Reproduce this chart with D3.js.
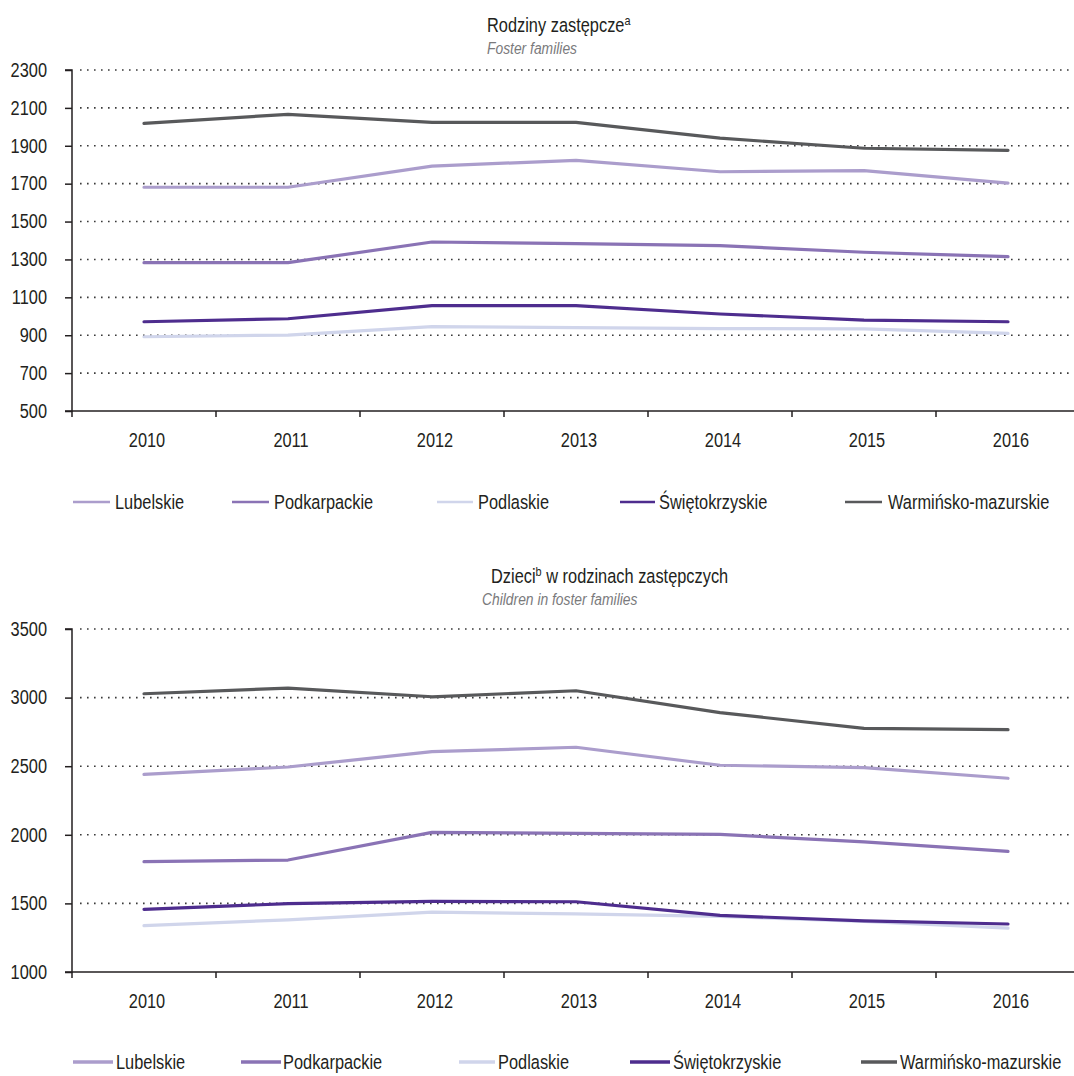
<!DOCTYPE html>
<html>
<head>
<meta charset="utf-8">
<script src="https://cdn.jsdelivr.net/npm/d3@7"></script>
<style>
  html, body { margin: 0; padding: 0; background: #fff; }
  svg { display: block; }
  text { font-family: "Liberation Sans", Arial, sans-serif; fill: #231f20; }
</style>
</head>
<body>
<svg id="chart" width="1074" height="1076"></svg>
<script>
const years = ["2010", "2011", "2012", "2013", "2014", "2015", "2016"];
const seriesNames = ["Lubelskie", "Podkarpackie", "Podlaskie", "Świętokrzyskie", "Warmińsko-mazurskie"];
const seriesColors = ["#ab9dcc", "#8a73b5", "#d0d5eb", "#4e2d8e", "#58595b"];

// Rodziny zastępcze (foster families)
const familiesLubelskie = [1681, 1681, 1793, 1823, 1763, 1769, 1703];
const familiesPodkarpackie = [1283, 1283, 1392, 1383, 1373, 1338, 1315];
const familiesPodlaskie = [892, 901, 945, 940, 935, 933, 910];
const familiesSwietokrzyskie = [971, 987, 1056, 1056, 1012, 980, 971];
const familiesWarminsko = [2018, 2066, 2024, 2024, 1940, 1887, 1876];
const familiesTicks = [500, 700, 900, 1100, 1300, 1500, 1700, 1900, 2100, 2300];

// Dzieci w rodzinach zastępczych (children in foster families)
const childrenLubelskie = [2441, 2494, 2606, 2638, 2507, 2489, 2412];
const childrenPodkarpackie = [1804, 1816, 2018, 2010, 2003, 1949, 1879];
const childrenPodlaskie = [1338, 1380, 1436, 1423, 1405, 1368, 1320];
const childrenSwietokrzyskie = [1457, 1498, 1515, 1512, 1413, 1372, 1350];
const childrenWarminsko = [3028, 3069, 3006, 3050, 2890, 2776, 2766];
const childrenTicks = [1000, 1500, 2000, 2500, 3000, 3500];

const svg = d3.select("#chart");
const CONDENSE = 0.84;

function drawPanel(cfg) {
  const g = svg.append("g");
  const x = d3.scaleBand().domain(years).range([72, 1080]).paddingInner(0).paddingOuter(0);
  const y = d3.scaleLinear().domain(cfg.domain).range([cfg.bottom, cfg.top]);
  const cx = d => x(d) + x.bandwidth() / 2;

  // title
  const t = g.append("text").attr("x", cfg.titleX).attr("y", cfg.titleY)
    .attr("font-size", 19.5).style("fill", "#231f20");
  t.append("tspan").text(cfg.title);
  t.append("tspan").text(cfg.sup).attr("font-size", 13).attr("dy", -7);
  if (cfg.tail) t.append("tspan").text(cfg.tail).attr("font-size", 19.5).attr("dy", 7);
  g.append("text").attr("x", cfg.subX).attr("y", cfg.titleY + 22)
    .attr("font-size", 16.5).attr("font-style", "italic").style("fill", "#7a7a7c")
    .text(cfg.subtitle);

  // gridlines
  g.append("g").selectAll("line")
    .data(cfg.ticks.filter(v => v !== cfg.domain[0]))
    .join("line")
    .attr("x1", 80).attr("x2", 1074)
    .attr("y1", d => y(d)).attr("y2", d => y(d))
    .attr("stroke", "#3a3a3a").attr("stroke-width", 1.6)
    .attr("stroke-dasharray", "1.6,5.4");

  // y axis
  const ya = g.append("g").attr("transform", "translate(72,0)")
    .call(d3.axisLeft(y).tickValues(cfg.ticks).tickSize(7).tickPadding(18).tickFormat(d3.format("d")));
  ya.select(".domain").attr("stroke", "#231f20").attr("stroke-width", 1.5).attr("d", `M-7,${y(cfg.domain[0])}H0V${y(cfg.domain[1])}H-7`);
  ya.selectAll(".tick line").attr("stroke", "#231f20").attr("stroke-width", 1.5);
  ya.selectAll(".tick text").attr("font-size", 19.5).style("fill", "#231f20")
    .style("font-family", "'Liberation Sans', Arial, sans-serif");

  // x axis
  const xa = g.append("g").attr("transform", `translate(0,${cfg.bottom})`)
    .call(d3.axisBottom(x).tickSize(0).tickPadding(22));
  xa.select(".domain").attr("stroke", "#231f20").attr("stroke-width", 1.5).attr("d", "M72,0H1080");
  xa.selectAll(".tick text").attr("font-size", 19.5).attr("x", 3).style("fill", "#231f20")
    .style("font-family", "'Liberation Sans', Arial, sans-serif");
  g.append("g").selectAll("line")
    .data(years.map(d => x(d)))
    .join("line")
    .attr("x1", d => d).attr("x2", d => d)
    .attr("y1", cfg.bottom).attr("y2", cfg.bottom + 6)
    .attr("stroke", "#231f20").attr("stroke-width", 1.5);

  // lines
  const line = d3.line().x((d, i) => cx(years[i])).y(d => y(d));
  g.append("g").selectAll("path")
    .data(cfg.series)
    .join("path")
    .attr("d", d => line(d.values))
    .attr("fill", "none")
    .attr("stroke", d => d.color)
    .attr("stroke-width", 3.2)
    .attr("stroke-linecap", "round")
    .attr("stroke-linejoin", "round");

  // legend
  const lg = g.append("g");
  cfg.legend.forEach((p, i) => {
    lg.append("line").attr("x1", p[0]).attr("x2", p[1])
      .attr("y1", cfg.legendY).attr("y2", cfg.legendY)
      .attr("stroke", seriesColors[i]).attr("stroke-width", cfg.legendStroke);
    lg.append("text").attr("x", p[2]).attr("y", cfg.legendY + 7)
      .attr("font-size", 19.5).style("fill", "#231f20").text(seriesNames[i]);
  });
}

function mk(vals) {
  // drawing order: Podlaskie, Lubelskie, Podkarpackie, Świętokrzyskie, Warmińsko
  const order = [2, 0, 1, 3, 4];
  return order.map(i => ({ values: vals[i], color: seriesColors[i] }));
}

drawPanel({
  title: "Rodziny zastępcze", sup: "a", subtitle: "Foster families",
  titleX: 487, subX: 487, titleY: 32,
  domain: [500, 2300], top: 70, bottom: 411, ticks: familiesTicks,
  series: mk([familiesLubelskie, familiesPodkarpackie, familiesPodlaskie, familiesSwietokrzyskie, familiesWarminsko]),
  legendY: 502, legendStroke: 2.6,
  legend: [[73, 110, 115], [232, 269, 274], [437, 473, 478], [620, 655, 659], [845, 882, 888]]
});

drawPanel({
  title: "Dzieci", sup: "b", tail: " w rodzinach zastępczych", subtitle: "Children in foster families",
  titleX: 491, subX: 482, titleY: 583,
  domain: [1000, 3500], top: 629, bottom: 972, ticks: childrenTicks,
  series: mk([childrenLubelskie, childrenPodkarpackie, childrenPodlaskie, childrenSwietokrzyskie, childrenWarminsko]),
  legendY: 1062, legendStroke: 3.6,
  legend: [[73, 113, 116], [241, 281, 283], [459, 495, 498], [630, 670, 673], [861, 897, 900]]
});

// condense all text horizontally (narrow typeface look)
svg.selectAll("text").each(function () {
  const el = d3.select(this);
  const tx = +(el.attr("x") || 0), ty = +(el.attr("y") || 0);
  el.attr("x", null).attr("y", null)
    .attr("transform", `translate(${tx},${ty}) scale(${CONDENSE},1)`);
});
</script>
</body>
</html>
